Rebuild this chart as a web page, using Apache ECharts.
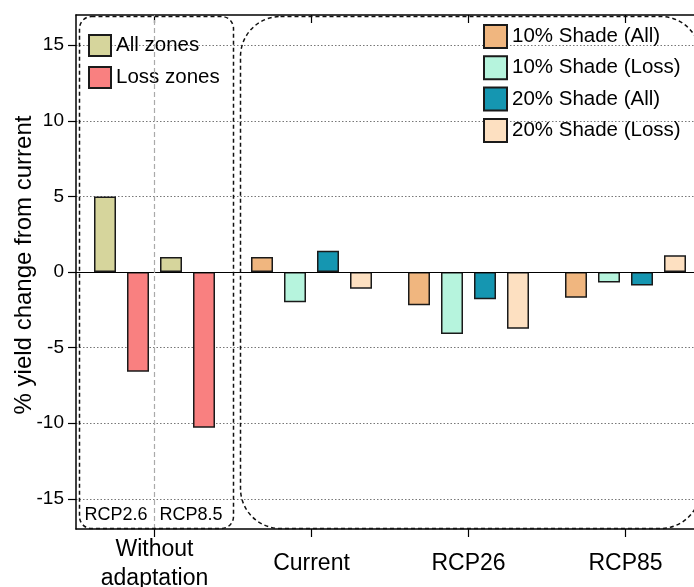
<!DOCTYPE html>
<html>
<head>
<meta charset="utf-8">
<script src="https://cdn.jsdelivr.net/npm/echarts@6/dist/echarts.min.js"></script>
<style>
html,body{margin:0;padding:0;background:#fff;}
#chart{width:694px;height:587px;}
</style>
</head>
<body>
<div id="chart"></div>
<script>
// ---- data ----
var categories = ['Without\nadaptation', 'Current', 'RCP26', 'RCP85'];
var noAdaptLabels = ['RCP2.6', 'RCP8.5'];
var allZones = [5.0, 1.0];          // RCP2.6, RCP8.5 (without adaptation)
var lossZones = [-6.6, -10.3];      // RCP2.6, RCP8.5 (without adaptation)
var shade10All = [1.0, -2.2, -1.7]; // Current, RCP26, RCP85
var shade10Loss = [-2.0, -4.1, -0.7];
var shade20All = [1.4, -1.8, -0.9];
var shade20Loss = [-1.1, -3.75, 1.1];
var yTicks = [-15, -10, -5, 0, 5, 10, 15];

// ---- styles ----
var C = {
  all: '#d6d59c', loss: '#f98080',
  s10a: '#f0b67f', s10l: '#b6f4dd', s20a: '#1596b1', s20l: '#fde0c1'
};
var FONT = '"Liberation Sans", Arial, sans-serif';

function noAdapt(v) { return [v, '-', '-', '-']; }
function shaded(arr) { return ['-'].concat(arr); }

function bar(name, stack, data, color) {
  return {
    name: name, type: 'bar', stack: stack, data: data,
    barWidth: 22, barGap: '50%',
    itemStyle: { color: color, borderColor: '#1a1a1a', borderWidth: 1.5 },
    emphasis: { disabled: true }
  };
}

var chart = echarts.init(document.getElementById('chart'), null, { renderer: 'canvas' });

var option = {
  animation: false,
  backgroundColor: '#fff',
  textStyle: { fontFamily: FONT, color: '#000' },
  grid: { left: 76, top: 15, width: 628, height: 514, containLabel: false, outerBoundsMode: 'none' },
  legend: [
    {
      data: ['All zones', 'Loss zones'],
      orient: 'vertical', left: 88, top: 34, padding: 0,
      itemWidth: 22, itemHeight: 21, itemGap: 9, icon: 'rect',
      textStyle: { fontSize: 20.5, color: '#000', fontFamily: FONT },
      selectedMode: false
    },
    {
      data: ['10% Shade (All)', '10% Shade (Loss)', '20% Shade (All)', '20% Shade (Loss)'],
      orient: 'vertical', left: 483, top: 24, padding: 0,
      itemWidth: 23, itemHeight: 23, itemGap: 6.3, icon: 'rect',
      textStyle: { fontSize: 20.5, color: '#000', fontFamily: FONT },
      selectedMode: false
    }
  ],
  xAxis: [
    {
      type: 'category', data: categories, position: 'bottom',
      axisLine: { show: true, onZero: false, lineStyle: { color: '#000', width: 1.5 } },
      axisTick: { show: true, alignWithLabel: true, length: 8, lineStyle: { color: '#000', width: 1.2 } },
      axisLabel: { fontSize: 23, color: '#000', fontFamily: FONT, margin: 35, verticalAlign: 'middle', lineHeight: 29, interval: 0 },
      splitLine: { show: false }
    },
    {
      type: 'category', data: categories, position: 'top',
      axisLine: { show: true, onZero: false, lineStyle: { color: '#000', width: 1.5 } },
      axisTick: { show: true, inside: true, alignWithLabel: true, length: 8, lineStyle: { color: '#000', width: 1.2 } },
      axisLabel: { show: false },
      splitLine: { show: false }
    }
  ],
  yAxis: {
    type: 'value', min: -17, max: 17,
    name: '% yield change from current', nameLocation: 'middle', nameGap: 40, nameRotate: 90,
    nameMoveOverlap: false,
    nameTextStyle: { fontSize: 24, color: '#000', fontFamily: FONT, padding: [0, 0, 0, 14] },
    axisLine: { show: true, lineStyle: { color: '#000', width: 1.5 } },
    axisTick: { show: true, length: 8, lineStyle: { color: '#000', width: 1.2 },
      customValues: yTicks },
    axisLabel: { fontSize: 19, color: '#000', fontFamily: FONT, margin: 12,
      customValues: yTicks },
    splitLine: { show: true, lineStyle: { color: '#777', width: 1, type: [1.5, 2] },
      customValues: yTicks }
  },
  series: [
    {
      name: 'ref', type: 'line', data: ['-', '-', '-', '-'], silent: true,
      symbol: 'none', legendHoverLink: false,
      markLine: {
        silent: true, symbol: ['none', 'none'], label: { show: false },
        data: [
          { yAxis: 0, lineStyle: { color: '#000', type: 'solid', width: 1.2 } },
          { xAxis: 0, lineStyle: { color: '#aaa', type: [5, 3], width: 1.2 } }
        ]
      }
    },
    bar('All zones', 's1', noAdapt(allZones[0]), C.all),
    bar('10% Shade (All)', 's1', shaded(shade10All), C.s10a),
    bar('Loss zones', 's2', noAdapt(lossZones[0]), C.loss),
    bar('10% Shade (Loss)', 's2', shaded(shade10Loss), C.s10l),
    bar('All zones', 's3', noAdapt(allZones[1]), C.all),
    bar('20% Shade (All)', 's3', shaded(shade20All), C.s20a),
    bar('Loss zones', 's4', noAdapt(lossZones[1]), C.loss),
    bar('20% Shade (Loss)', 's4', shaded(shade20Loss), C.s20l)
  ],
  graphic: [
    {
      type: 'rect', z: 100, silent: true,
      shape: { x: 79.5, y: 16.5, width: 154, height: 512, r: 12 },
      style: { fill: 'none', stroke: '#111', lineWidth: 1.5, lineDash: [4, 3] }
    },
    {
      type: 'rect', z: 100, silent: true,
      shape: { x: 240.5, y: 16.5, width: 460, height: 512, r: 40 },
      style: { fill: 'none', stroke: '#111', lineWidth: 1.5, lineDash: [4, 3] }
    },
    {
      type: 'text', z: 100, silent: true, x: 116, y: 515,
      style: { text: noAdaptLabels[0], fontSize: 18, fontFamily: FONT, fill: '#000', align: 'center', verticalAlign: 'middle' }
    },
    {
      type: 'text', z: 100, silent: true, x: 191, y: 515,
      style: { text: noAdaptLabels[1], fontSize: 18, fontFamily: FONT, fill: '#000', align: 'center', verticalAlign: 'middle' }
    }
  ]
};

chart.setOption(option);
</script>
</body>
</html>
